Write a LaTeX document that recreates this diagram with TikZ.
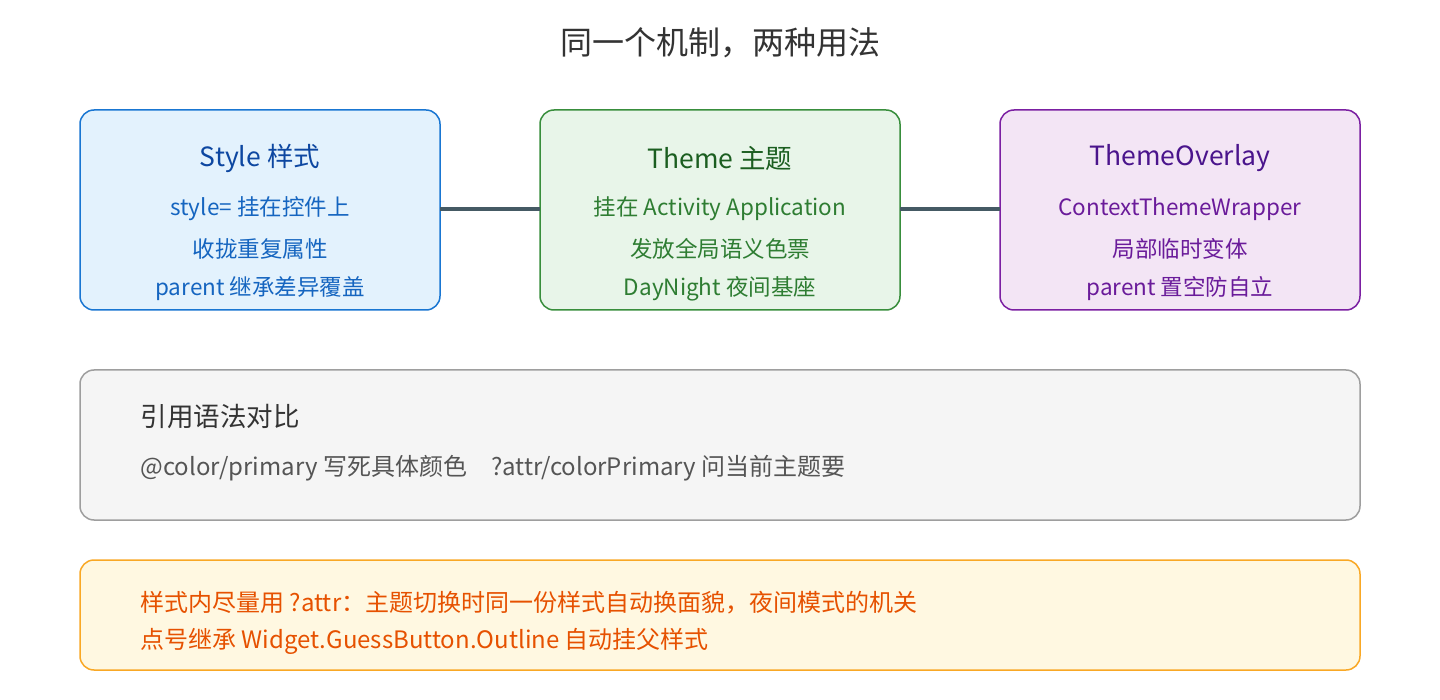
\documentclass[tikz,border=0pt]{standalone}
\usepackage{fontspec}
\setmainfont{Noto Sans CJK SC}
\begin{document}
\begin{tikzpicture}[x=1pt,y=-1pt,
 box/.style={draw,line width=1.5pt,rounded corners=14pt},
 ttl/.style={font=\fontsize{26.5}{30}\selectfont,anchor=center},
 bod/.style={font=\fontsize{24}{28}\selectfont,anchor=center},
 cbod/.style={font=\fontsize{22.5}{26}\selectfont,anchor=center},
 lft/.style={anchor=west},
 link/.style={draw=c455A64,line width=3.5pt}]
\definecolor{c455A64}{HTML}{455A64}
\definecolor{bF}{HTML}{E3F2FD}\definecolor{bS}{HTML}{1976D2}\definecolor{bT}{HTML}{0D47A1}\definecolor{bB}{HTML}{1565C0}
\definecolor{gF}{HTML}{E8F5E9}\definecolor{gS}{HTML}{388E3C}\definecolor{gT}{HTML}{1B5E20}\definecolor{gB}{HTML}{2E7D32}
\definecolor{pF}{HTML}{F3E5F5}\definecolor{pS}{HTML}{7B1FA2}\definecolor{pT}{HTML}{4A148C}\definecolor{pB}{HTML}{6A1B9A}
\definecolor{kF}{HTML}{F5F5F5}\definecolor{kS}{HTML}{9E9E9E}\definecolor{kT}{HTML}{333333}\definecolor{kB}{HTML}{555555}
\definecolor{oF}{HTML}{FFF8E1}\definecolor{oS}{HTML}{F9A825}\definecolor{oT}{HTML}{E65100}
\useasboundingbox[fill=white] (0,0) rectangle (1440,700);
\node[font=\fontsize{32}{36}\selectfont,text=kT] (title) at (720,43) {同一个机制，两种用法};
\draw[box,fill=bF,draw=bS] (80,110) rectangle (440,310);
\draw[box,fill=gF,draw=gS] (540,110) rectangle (900,310);
\draw[box,fill=pF,draw=pS] (1000,110) rectangle (1360,310);
\coordinate (sR) at (440,209);\coordinate (tL) at (540,209);
\coordinate (tR) at (900,209);\coordinate (oL) at (1000,209);
\draw[link] (sR) -- (tL);\draw[link] (tR) -- (oL);
\node[ttl,text=bT] (s0) at (260,158) {Style 样式};
\node[cbod,text=bB] (s1) at (260,209) {style= 挂在控件上};
\node[cbod,text=bB] (s2) at (260,249) {收拢重复属性};
\node[cbod,text=bB] (s3) at (260,289) {parent 继承差异覆盖};
\node[ttl,text=gT] (t0) at (720,158) {Theme 主题};
\node[cbod,text=gB] (t1) at (720,209) {挂在 Activity Application};
\node[cbod,text=gB] (t2) at (720,249) {发放全局语义色票};
\node[cbod,text=gB] (t3) at (720,289) {DayNight 夜间基座};
\node[ttl,text=pT] (o0) at (1180,158) {ThemeOverlay};
\node[cbod,text=pB] (o1) at (1180,209) {ContextThemeWrapper};
\node[cbod,text=pB] (o2) at (1180,249) {局部临时变体};
\node[cbod,text=pB] (o3) at (1180,289) {parent 置空防自立};
\draw[box,fill=kF,draw=kS] (80,370) rectangle (1360,520);
\node[ttl,lft,text=kT] (k0) at (137,416) {引用语法对比};
\node[bod,lft,text=kB] (k1) at (137,468) {@color/primary 写死具体颜色\quad ?attr/colorPrimary 问当前主题要};
\draw[box,fill=oF,draw=oS] (80,560) rectangle (1360,670);
\node[bod,lft,text=oT] (r1) at (137,603) {样式内尽量用 ?attr：主题切换时同一份样式自动换面貌，夜间模式的机关};
\node[bod,lft,text=oT] (r2) at (137,641) {点号继承 Widget.GuessButton.Outline 自动挂父样式};
\end{tikzpicture}
\end{document}
